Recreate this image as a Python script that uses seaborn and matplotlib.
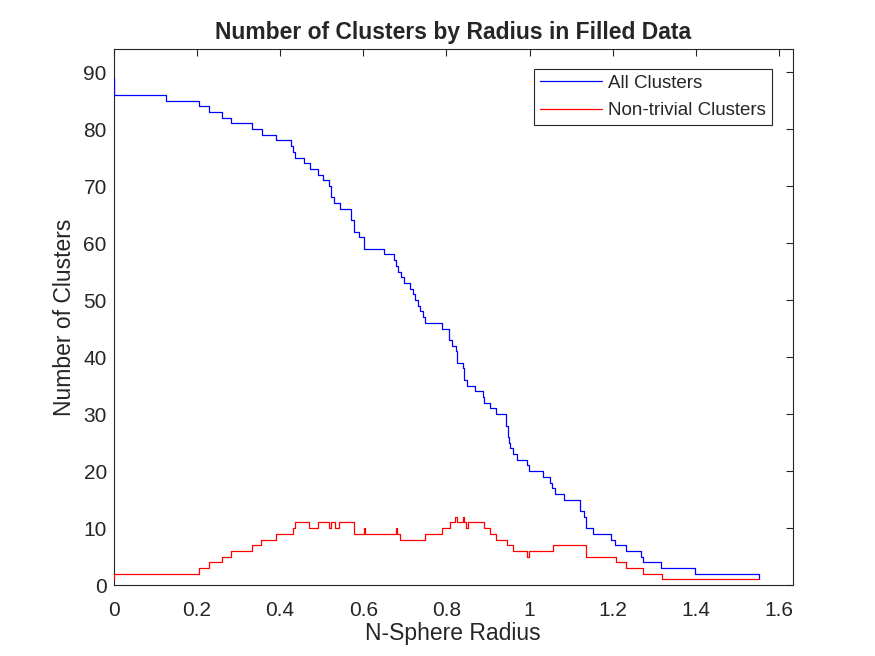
import matplotlib
matplotlib.use("Agg")
import matplotlib.pyplot as plt
import seaborn as sns
import pandas as pd

# step breakpoints (value holds until next x)
all_x = [0, 0, 0.125, 0.206, 0.230, 0.261, 0.281, 0.333, 0.356, 0.391, 0.426,
         0.432, 0.436, 0.457, 0.471, 0.491, 0.504, 0.517, 0.523, 0.529, 0.543,
         0.571, 0.577, 0.589, 0.603, 0.649, 0.673, 0.680, 0.683, 0.692, 0.697,
         0.713, 0.719, 0.725, 0.731, 0.737, 0.743, 0.749, 0.789, 0.807, 0.813,
         0.824, 0.826, 0.839, 0.843, 0.849, 0.869, 0.887, 0.891, 0.905, 0.920,
         0.944, 0.947, 0.951, 0.954, 0.961, 0.969, 0.993, 0.999, 1.032, 1.048,
         1.053, 1.061, 1.083, 1.121, 1.132, 1.135, 1.152, 1.197, 1.205, 1.231,
         1.267, 1.273, 1.317, 1.397, 1.552]
all_y = [89, 86, 85, 84, 83, 82, 81, 80, 79, 78, 77,
         76, 75, 74, 73, 72, 71, 70, 68, 67, 66,
         64, 62, 61, 59, 58, 57, 56, 55, 54, 53,
         52, 51, 50, 49, 48, 47, 46, 45, 43, 42,
         41, 39, 38, 36, 35, 34, 33, 32, 31, 30,
         28, 26, 25, 24, 23, 22, 21, 20, 19, 18,
         17, 16, 15, 13, 12, 10, 9, 8, 7, 6,
         5, 4, 3, 2, 1]

nontriv_x = [0, 0, 0.205, 0.229, 0.260, 0.281, 0.333, 0.355, 0.390, 0.431, 0.436,
             0.469, 0.491, 0.517, 0.523, 0.531, 0.542, 0.579, 0.603, 0.605, 0.680,
             0.682, 0.689, 0.749, 0.789, 0.809, 0.821, 0.825, 0.839, 0.843, 0.848,
             0.851, 0.891, 0.904, 0.920, 0.945, 0.961, 0.993, 0.999, 1.056, 1.136,
             1.207, 1.231, 1.273, 1.319, 1.552]
nontriv_y = [1, 2, 3, 4, 5, 6, 7, 8, 9, 10, 11,
             10, 11, 10, 11, 10, 11, 9, 10, 9, 10,
             9, 8, 9, 10, 11, 12, 11, 12, 11, 10,
             11, 10, 9, 8, 7, 6, 5, 6, 7, 5,
             4, 3, 2, 1, 1]

x_ticks = [0, 0.2, 0.4, 0.6, 0.8, 1, 1.2, 1.4, 1.6]
x_labels = ["0", "0.2", "0.4", "0.6", "0.8", "1", "1.2", "1.4", "1.6"]
y_ticks = list(range(0, 100, 10))

df = pd.concat([
    pd.DataFrame({"radius": all_x, "count": all_y, "series": "All Clusters"}),
    pd.DataFrame({"radius": nontriv_x, "count": nontriv_y, "series": "Non-trivial Clusters"}),
], ignore_index=True)

sns.set_style("white")
plt.rcParams["font.family"] = ["Liberation Sans", "DejaVu Sans"]

fig = plt.figure(figsize=(8.75, 6.56), dpi=100)
ax = fig.add_axes([0.13, 0.108, 0.776, 0.817])

sns.lineplot(data=df, x="radius", y="count", hue="series",
             palette={"All Clusters": "#0000ff", "Non-trivial Clusters": "#ff0000"},
             estimator=None, sort=False, drawstyle="steps-post",
             linewidth=0.9, zorder=3, ax=ax)

ax.set_xlim(0, 1.633)
ax.set_ylim(0, 94)
ax.set_xticks(x_ticks)
ax.set_xticklabels(x_labels)
ax.set_yticks(y_ticks)
ax.tick_params(direction="in", length=5, width=0.8, top=True, right=True,
               labelsize=15, colors="#262626")
ax.tick_params(axis="x", pad=11.5)
ax.tick_params(axis="y", pad=5)
for s in ax.spines.values():
    s.set_color("#262626")
    s.set_linewidth(0.8)
    s.set_zorder(1)

ax.set_xlabel("N-Sphere Radius", fontsize=16.5, color="#262626", labelpad=1)
ax.set_ylabel("Number of Clusters", fontsize=16.5, color="#262626", labelpad=5)
ax.set_title("Number of Clusters by Radius in Filled Data", fontsize=16.5,
             fontweight="bold", pad=7)

leg = ax.legend(loc="upper right", bbox_to_anchor=(0.969, 0.9625), fontsize=13.5,
                frameon=True, fancybox=False, framealpha=1, edgecolor="#262626",
                handlelength=3.3, borderpad=0.3, labelspacing=0.55,
                handletextpad=0.35, borderaxespad=0)
leg.get_frame().set_linewidth(0.8)

fig.savefig("out.png", dpi=100)
